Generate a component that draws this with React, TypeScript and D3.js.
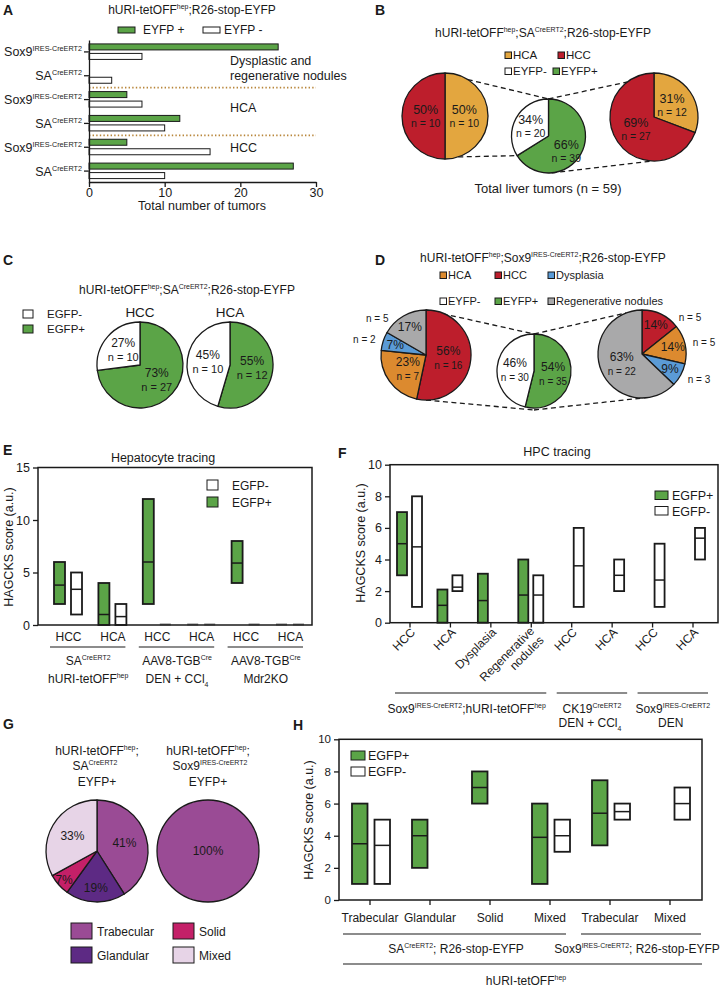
import React, { useEffect, useRef } from 'react';
import * as d3 from 'd3';

const FONT = '"Liberation Sans", Arial, Helvetica, sans-serif';
const INK = '#1a1a1a';
const GREEN = '#5ba447';
const RED = '#bd1e2c';
const ORANGE_B = '#e3a63f';
const ORANGE_D = '#dc8a2f';
const BLUE = '#5b9bd6';
const GRAY = '#a9a9aa';
const PATTERN_COLORS = ['#9a4b95', '#5d2a84', '#c42068', '#e7d4e7'];

type Seg = string | [string, 'sup' | 'sub'];
const HURI: Seg[] = ['hURI-tetOFF', ['hep', 'sup']];
const SOX9: Seg[] = ['Sox9', ['IRES-CreERT2', 'sup']];
const SA: Seg[] = ['SA', ['CreERT2', 'sup']];

// ---- A: tumour counts per line ----
const aLines = ['Sox9', 'SA', 'Sox9', 'SA', 'Sox9', 'SA'];
const aEyfpPos = [25, 0, 5, 12, 5, 27];
const aEyfpNeg = [7, 3, 7, 10, 16, 10];
const aTicks = [0, 10, 20, 30];
const aGroups = [['Dysplastic and', 'regenerative nodules'], ['HCA'], ['HCC']];

// ---- B: SA-CreERT2 tumours ----
const bTypes = ['HCA', 'HCC'];
const bNegCounts = [10, 10];
const bNegPct = ['50%', '50%'];
const bPosCounts = [12, 27];
const bPosPct = ['31%', '69%'];
const bAllCounts = [39, 20]; // EYFP+, EYFP-
const bAllPct = ['66%', '34%'];

// ---- C ----
const cTumors = ['HCC', 'HCA'];
const cCounts = [[27, 10], [12, 10]]; // EGFP+, EGFP-
const cPct = [['73%', '27%'], ['55%', '45%']];

// ---- D: Sox9-CreERT2 tumours ----
const dTypes = ['HCC', 'HCA', 'Dysplasia', 'Regenerative nodules'];
const dNegCounts = [16, 7, 2, 5];
const dNegPct = ['56%', '23%', '7%', '17%'];
const dPosCounts = [5, 5, 3, 22];
const dPosPct = ['14%', '14%', '9%', '63%'];
const dAllCounts = [35, 30]; // EYFP+, EYFP-
const dAllPct = ['54%', '46%'];

// ---- E: HAGCKS scores [min, median, max] ----
const eTumors = ['HCC', 'HCA', 'HCC', 'HCA', 'HCC', 'HCA'];
const ePos = [[2, 3.8, 6], [0, 1, 4], [2, 6, 12], [0, 0, 0], [4, 5.9, 8], [0, 0, 0]];
const eNeg = [[1, 3.4, 5], [0, 0.8, 2], [0, 0, 0], [0, 0, 0], [0, 0, 0], [0, 0, 0]];
const eTicks = [0, 5, 10, 15];
const eGroupTop: Seg[][] = [SA, ['AAV8-TGB', ['Cre', 'sup']], ['AAV8-TGB', ['Cre', 'sup']]];
const eGroupBottom: Seg[][] = [HURI, ['DEN + CCl', ['4', 'sub']], ['Mdr2KO']];

// ---- F ----
const fTumors = ['HCC', 'HCA', 'Dysplasia', 'Regenerative|nodules', 'HCC', 'HCA', 'HCC', 'HCA'];
const fPos = [[3, 5, 7], [0, 1.1, 2.1], [0, 1.4, 3.1], [0, 1.75, 4], null, null, null, null];
const fNeg = [[1, 4.8, 8], [2, 2.25, 3], null, [0, 1.75, 3], [1, 3.6, 6], [2, 3, 4], [1, 2.7, 5], [4, 5.35, 6]];
const fTicks = [0, 2, 4, 6, 8, 10];
const fGroups = [[0, 3], [4, 5], [6, 7]];
const fGroupTop: Seg[][] = [[...SOX9, ';', ...HURI], ['CK19', ['CreERT2', 'sup']], SOX9];
const fGroupBottom: Seg[][] = [[], ['DEN + CCl', ['4', 'sub']], ['DEN']];

// ---- G ----
const gPatterns = ['Trabecular', 'Glandular', 'Solid', 'Mixed'];
const gSA = [41, 19, 7, 33];
const gSox9 = [100, 0, 0, 0];

// ---- H ----
const hPatterns = ['Trabecular', 'Glandular', 'Solid', 'Mixed', 'Trabecular', 'Mixed'];
const hPos = [[1, 3.5, 6], [2, 4, 5], [6, 7, 8], [1, 3.9, 6], [3.4, 5.4, 7.45], null];
const hNeg = [[1, 3.4, 5], null, null, [3, 4, 5], [5, 5.5, 6], [5, 6, 7]];
const hTicks = [0, 2, 4, 6, 8, 10];
const hGroups = [[0, 3], [4, 5]];
const hGroupText: Seg[][] = [[...SA, '; R26-stop-EYFP'], [...SOX9, '; R26-stop-EYFP']];

// ---------- helpers ----------
function rich(g: any, x: number, y: number, segs: Seg[], size: number, anchor = 'start') {
  const t = g.append('text').attr('x', x).attr('y', y).attr('font-size', size)
    .attr('text-anchor', anchor).attr('fill', INK);
  let cur = 0;
  segs.forEach((s) => {
    const str = typeof s === 'string' ? s : s[0];
    const kind = typeof s === 'string' ? '' : s[1];
    const off = kind === 'sup' ? -size * 0.4 : kind === 'sub' ? size * 0.3 : 0;
    const sp = t.append('tspan').attr('dy', off - cur).text(str);
    if (kind) sp.attr('font-size', size * 0.58);
    cur = off;
  });
  return t;
}

function txt(g: any, x: number, y: number, s: string, size: number, anchor = 'start', weight = 'normal') {
  return g.append('text').attr('x', x).attr('y', y).attr('font-size', size)
    .attr('text-anchor', anchor).attr('font-weight', weight).attr('fill', INK).text(s);
}

function letter(g: any, x: number, y: number, s: string) {
  txt(g, x, y, s, 14, 'start', 'bold');
}

function swatch(g: any, x: number, y: number, w: number, h: number, fill: string) {
  g.append('rect').attr('x', x).attr('y', y).attr('width', w).attr('height', h)
    .attr('fill', fill).attr('stroke', INK).attr('stroke-width', 1);
}

function hline(g: any, x1: number, x2: number, y: number, w = 1.2) {
  g.append('line').attr('x1', x1).attr('x2', x2).attr('y1', y).attr('y2', y)
    .attr('stroke', INK).attr('stroke-width', w);
}

type Pie = { cx: number; cy: number; r: number };

function drawPie(g: any, P: Pie, values: number[], colors: string[]) {
  const arcs = d3.pie<number>().sort(null).value((d) => d)(values);
  const arc = d3.arc<d3.PieArcDatum<number>>().innerRadius(0).outerRadius(P.r);
  const pg = g.append('g').attr('transform', `translate(${P.cx},${P.cy})`);
  pg.selectAll('path').data(arcs.filter((a) => a.value > 0)).join('path')
    .attr('d', arc as any)
    .attr('fill', (d: any) => colors[d.index])
    .attr('stroke', INK).attr('stroke-width', 1.3).attr('stroke-linejoin', 'round');
  return arcs;
}

function spot(P: Pie, a: d3.PieArcDatum<number>, k: number) {
  const m = (a.startAngle + a.endAngle) / 2;
  return [P.cx + Math.sin(m) * P.r * k, P.cy - Math.cos(m) * P.r * k];
}

function onRim(P: Pie, deg: number, extra = 0) {
  const a = (deg * Math.PI) / 180;
  return [P.cx + Math.sin(a) * (P.r + extra), P.cy - Math.cos(a) * (P.r + extra)];
}

function dashed(g: any, p: number[], q: number[]) {
  g.append('line').attr('x1', p[0]).attr('y1', p[1]).attr('x2', q[0]).attr('y2', q[1])
    .attr('stroke', INK).attr('stroke-width', 1.3).attr('stroke-dasharray', '5,3.5');
}

function twoLine(g: any, p: number[], pct: string, n: number, ps: number, ns: number, up: number, down: number) {
  txt(g, p[0], p[1] - up, pct, ps, 'middle');
  txt(g, p[0], p[1] + down, `n = ${n}`, ns, 'middle');
}

function frame(g: any, x0: number, y0: number, x1: number, y1: number) {
  g.append('rect').attr('x', x0).attr('y', y0).attr('width', x1 - x0).attr('height', y1 - y0)
    .attr('fill', 'none').attr('stroke', INK).attr('stroke-width', 1.5);
}

function leftAxis(g: any, y: any, x0: number, ticks: number[], size: number) {
  const ax = g.append('g').attr('transform', `translate(${x0},0)`)
    .call(d3.axisLeft(y).tickValues(ticks).tickSize(5).tickSizeOuter(0).tickPadding(3));
  ax.select('.domain').remove();
  ax.attr('font-size', size).attr('font-family', FONT).attr('color', INK);
  ax.selectAll('line').attr('stroke-width', 1.3);
  return ax;
}

function boxes(g: any, x: any, y: any, data: (number[] | null)[], o0: number, o1: number, fill: string) {
  data.forEach((d, i) => {
    if (!d) return;
    const c = x(i);
    const [lo, med, hi] = d;
    if (hi === lo) {
      g.append('line').attr('x1', c + o0).attr('x2', c + o1).attr('y1', y(lo) - 0.5).attr('y2', y(lo) - 0.5)
        .attr('stroke', '#7c7c7c').attr('stroke-width', 2);
      return;
    }
    g.append('rect').attr('x', c + o0).attr('y', y(hi)).attr('width', o1 - o0).attr('height', y(lo) - y(hi))
      .attr('fill', fill).attr('stroke', INK).attr('stroke-width', 1.8);
    hline(g, c + o0, c + o1, y(med), 1.5);
  });
}

function yTitle(g: any, x: number, y: number) {
  g.append('text').attr('transform', `translate(${x},${y}) rotate(-90)`).attr('text-anchor', 'middle')
    .attr('font-size', 12.5).attr('fill', INK).text('HAGCKS score (a.u.)');
}

// ---------- panels ----------
function swatchBar(g: any, x: number, y: number, w: number, fill: string) {
  g.append('rect').attr('x', x).attr('y', y).attr('width', w).attr('height', 6)
    .attr('fill', fill).attr('stroke', INK).attr('stroke-width', 1);
}

function drawA(svg: any) {
  const g = svg.append('g');
  letter(g, 3, 15, 'A');
  rich(g, 192, 14, [...HURI, ';R26-stop-EYFP'], 12, 'middle');
  swatch(g, 118, 27, 17, 6, GREEN);
  txt(g, 143, 33.5, 'EYFP +', 12);
  swatch(g, 203, 27, 17, 6, '#fff');
  txt(g, 224, 33.5, 'EYFP -', 12);

  const x = d3.scaleLinear().domain([0, 30]).range([89, 316]);
  const y = d3.scaleBand<number>().domain(d3.range(aLines.length)).range([40, 183]);
  const mid = (i: number) => (y(i) as number) + y.bandwidth() / 2;

  aEyfpPos.forEach((v, i) => {
    if (v > 0) swatchBar(g, x(0), mid(i) - 8, x(v) - x(0), GREEN);
  });
  aEyfpNeg.forEach((v, i) => {
    if (v > 0) swatchBar(g, x(0), mid(i) + 1.5, x(v) - x(0), '#fff');
  });

  [2, 4].forEach((i) => {
    g.append('line').attr('x1', x(0)).attr('x2', x(30)).attr('y1', y(i)).attr('y2', y(i))
      .attr('stroke', '#b8863b').attr('stroke-width', 1.6).attr('stroke-dasharray', '1.4,2.2');
  });

  const xa = g.append('g').attr('transform', 'translate(0,182)')
    .call(d3.axisBottom(x).tickValues(aTicks).tickSize(5).tickSizeOuter(0).tickPadding(1));
  xa.attr('font-size', 12.5).attr('font-family', FONT).attr('color', INK);
  xa.selectAll('line,path').attr('stroke-width', 1.3);
  const ya = g.append('g').attr('transform', 'translate(89,0)')
    .call(d3.axisLeft(y).tickSize(5).tickSizeOuter(0).tickFormat(() => ''));
  ya.attr('color', INK);
  ya.selectAll('line,path').attr('stroke-width', 1.3);

  aLines.forEach((l, i) => rich(g, 82, mid(i) + 4.5, l === 'Sox9' ? SOX9 : SA, 12.5, 'end'));
  const groupDy = [13, 12.5, 5];
  aGroups.forEach((lines, k) => {
    lines.forEach((s, j) => txt(g, 230, mid(k * 2) + groupDy[k] + j * 15, s, 12.5));
  });
  txt(g, 202, 210, 'Total number of tumors', 12.5, 'middle');
}

function drawB(svg: any) {
  const g = svg.append('g');
  letter(g, 375, 15, 'B');
  rich(g, 543, 37, [...HURI, ';', ...SA, ';R26-stop-EYFP'], 12, 'middle');
  const typeColors = [ORANGE_B, RED];
  swatch(g, 505, 52, 6.5, 6.5, typeColors[0]);
  txt(g, 513, 58.5, bTypes[0], 11.5);
  swatch(g, 558, 52, 6.5, 6.5, typeColors[1]);
  txt(g, 566, 58.5, bTypes[1], 11.5);
  swatch(g, 505, 68, 6.5, 6.5, '#fff');
  txt(g, 513, 74.5, 'EYFP-', 11.5);
  swatch(g, 553, 68, 6.5, 6.5, GREEN);
  txt(g, 561, 74.5, 'EYFP+', 11.5);

  const L = { cx: 445, cy: 116, r: 43 };
  const M = { cx: 548.5, cy: 136, r: 37 };
  const R = { cx: 654, cy: 117, r: 44 };
  const split = (360 * bAllCounts[0]) / d3.sum(bAllCounts);
  dashed(g, onRim(L, 32), onRim(M, 0));
  dashed(g, onRim(L, 162), onRim(M, split));
  dashed(g, onRim(M, 0), onRim(R, 323));
  dashed(g, onRim(M, 175), onRim(R, 182));

  const la = drawPie(g, L, bNegCounts, typeColors);
  la.forEach((a, i) => twoLine(g, spot(L, a, 0.45), bNegPct[i], bNegCounts[i], 12.5, 10.5, 2, 11));
  const ma = drawPie(g, M, bAllCounts, [GREEN, '#fff']);
  ma.forEach((a, i) => {
    const p = spot(M, a, 0.55);
    twoLine(g, [p[0], p[1] + (i === 0 ? 5 : 0)], bAllPct[i], bAllCounts[i], 12.5, 10.5, 2, 11);
  });
  const ra = drawPie(g, R, bPosCounts, typeColors);
  ra.forEach((a, i) => twoLine(g, spot(R, a, 0.5), bPosPct[i], bPosCounts[i], 12.5, 10.5, 2, 11));

  txt(g, 548, 193, 'Total liver tumors (n = 59)', 13, 'middle');
}

function drawC(svg: any) {
  const g = svg.append('g');
  letter(g, 3, 265, 'C');
  rich(g, 187, 294, [...HURI, ';', ...SA, ';R26-stop-EYFP'], 12, 'middle');
  swatch(g, 23, 310, 10, 8, '#fff');
  txt(g, 47, 318, 'EGFP-', 11.5);
  swatch(g, 23, 325, 10, 8, GREEN);
  txt(g, 47, 333, 'EGFP+', 11.5);
  const centers = [140, 230];
  cTumors.forEach((t, k) => {
    const P = { cx: centers[k], cy: 365, r: 43 };
    txt(g, P.cx, 317, t, 13.5, 'middle');
    const arcs = drawPie(g, P, cCounts[k], [GREEN, '#fff']);
    arcs.forEach((a, i) => twoLine(g, spot(P, a, 0.52), cPct[k][i], cCounts[k][i], 12, 11, 3, 11));
  });
}

function drawD(svg: any) {
  const g = svg.append('g');
  letter(g, 375, 265, 'D');
  rich(g, 543, 262, [...HURI, ';', ...SOX9, ';R26-stop-EYFP'], 12, 'middle');
  const typeColors = [RED, ORANGE_D, BLUE, GRAY];
  const row1 = [[440, ORANGE_D, dTypes[1]], [495, RED, dTypes[0]], [548, BLUE, dTypes[2]]];
  row1.forEach(([x, c, s]) => {
    swatch(g, x as number, 272, 6.5, 6.5, c as string);
    txt(g, (x as number) + 8, 278.5, s as string, 11);
  });
  const row2 = [[440, '#fff', 'EYFP-'], [495, GREEN, 'EYFP+'], [548, GRAY, dTypes[3]]];
  row2.forEach(([x, c, s]) => {
    swatch(g, x as number, 298, 6.5, 6.5, c as string);
    txt(g, (x as number) + 8, 304.5, s as string, 11);
  });

  const L = { cx: 426, cy: 355, r: 45 };
  const M = { cx: 534, cy: 371, r: 37 };
  const R = { cx: 642, cy: 354, r: 44 };
  dashed(g, onRim(L, 0), onRim(M, 0));
  dashed(g, onRim(L, 180), onRim(M, 180, 2));
  dashed(g, onRim(M, 0), onRim(R, 339));
  dashed(g, onRim(M, 180, 2), onRim(R, 168));

  const label = (P: Pie, arcs: d3.PieArcDatum<number>[], pcts: string[], counts: number[]) => {
    const total = d3.sum(counts);
    arcs.forEach((a, i) => {
      const frac = counts[i] / total;
      const p = spot(P, a, frac >= 0.2 ? 0.5 : 0.72);
      if (counts[i] >= 7) {
        twoLine(g, p, pcts[i], counts[i], 12, 10, 2, 12);
      } else {
        txt(g, p[0], p[1] + 4, pcts[i], 12, 'middle');
        let m = ((a.startAngle + a.endAngle) / 2) * 180 / Math.PI;
        if (m < 45) m = 45;
        if (m > 315) m = 315;
        const q = onRim(P, m, 8);
        txt(g, q[0], q[1] + 4, `n = ${counts[i]}`, 10, q[0] < P.cx ? 'end' : 'start');
      }
    });
  };
  label(L, drawPie(g, L, dNegCounts, typeColors), dNegPct, dNegCounts);
  const ma = drawPie(g, M, dAllCounts, [GREEN, '#fff']);
  ma.forEach((a, i) => twoLine(g, spot(M, a, 0.52), dAllPct[i], dAllCounts[i], 12, 10, 2, 12));
  label(R, drawPie(g, R, dPosCounts, typeColors), dPosPct, dPosCounts);
}

function drawE(svg: any) {
  const g = svg.append('g');
  letter(g, 3, 455, 'E');
  txt(g, 163, 462, 'Hepatocyte tracing', 12.5, 'middle');
  const y = d3.scaleLinear().domain([0, 15]).range([625, 467.5]);
  const x = d3.scalePoint<number>().domain(d3.range(eTumors.length)).range([68, 290]);
  boxes(g, x, y, ePos, -14, -3, GREEN);
  boxes(g, x, y, eNeg, 3, 14, '#fff');
  frame(g, 38, 467.5, 312, 625);
  leftAxis(g, y, 38, eTicks, 12.5);
  yTitle(g, 13, 547);
  swatch(g, 207, 480, 11, 10, '#fff');
  txt(g, 232, 490, 'EGFP-', 12);
  swatch(g, 207, 497, 11, 10, GREEN);
  txt(g, 232, 506.5, 'EGFP+', 12);
  eTumors.forEach((t, i) => txt(g, (x(i) as number) + 0.5, 641, t, 12, 'middle'));
  eGroupTop.forEach((segs, k) => {
    const a = x(k * 2) as number;
    const b = x(k * 2 + 1) as number;
    hline(g, a - 18, b + 13, 647, 1.2);
    rich(g, (a + b) / 2 - 2, 665, segs, 12, 'middle');
    rich(g, (a + b) / 2 - 2, 683, eGroupBottom[k], 12, 'middle');
  });
}

function drawF(svg: any) {
  const g = svg.append('g');
  letter(g, 338, 458, 'F');
  txt(g, 557, 456, 'HPC tracing', 12.5, 'middle');
  const y = d3.scaleLinear().domain([0, 10]).range([622.7, 464.7]);
  const x = d3.scalePoint<number>().domain(d3.range(fTumors.length)).range([410, 693]);
  boxes(g, x, y, fPos, -13, -3, GREEN);
  boxes(g, x, y, fNeg, 2, 12, '#fff');
  frame(g, 390, 464.7, 718, 622.7);
  leftAxis(g, y, 390, fTicks, 12.5);
  yTitle(g, 365, 543);
  swatch(g, 655, 491, 13, 8.5, GREEN);
  txt(g, 672, 500, 'EGFP+', 12.5);
  swatch(g, 655, 506.5, 13, 8.5, '#fff');
  txt(g, 672, 515.5, 'EGFP-', 12.5);
  fTumors.forEach((t, i) => {
    const c = x(i) as number;
    g.append('line').attr('x1', c).attr('x2', c).attr('y1', 622.7).attr('y2', 627.5)
      .attr('stroke', INK).attr('stroke-width', 1.3);
    const lines = t.split('|');
    if (lines.length === 1) {
      g.append('text').attr('transform', `translate(${c + 6},${633}) rotate(-45)`)
        .attr('text-anchor', 'end').attr('font-size', 12).attr('fill', INK).text(lines[0]);
    } else {
      const tg = g.append('text').attr('transform', `translate(${c + 8},${636}) rotate(-45)`)
        .attr('text-anchor', 'end').attr('font-size', 12).attr('fill', INK);
      lines.forEach((l, j) => tg.append('tspan').attr('x', 0).attr('dy', j === 0 ? '-0.5em' : '1.1em').text(l));
    }
  });
  fGroups.forEach(([a, b], k) => {
    const xa = x(a) as number;
    const xb = x(b) as number;
    hline(g, xa - 15, xb + 15, 693, 1.2);
    rich(g, (xa + xb) / 2 + (k === 0 ? -4 : 0), 713, fGroupTop[k], 12, 'middle');
    if (fGroupBottom[k].length) rich(g, (xa + xb) / 2 - 2, 727, fGroupBottom[k], 12, 'middle');
  });
}

function drawG(svg: any) {
  const g = svg.append('g');
  letter(g, 3, 729, 'G');
  const L = { cx: 97, cy: 851, r: 51 };
  const R = { cx: 208, cy: 851, r: 51 };
  rich(g, L.cx, 755, [...HURI, ';'], 12, 'middle');
  rich(g, L.cx - 2, 770, SA, 12, 'middle');
  txt(g, L.cx, 786, 'EYFP+', 12, 'middle');
  rich(g, R.cx, 755, [...HURI, ';'], 12, 'middle');
  rich(g, R.cx + 2, 770, SOX9, 12, 'middle');
  txt(g, R.cx, 786, 'EYFP+', 12, 'middle');

  [[L, gSA], [R, gSox9]].forEach(([P, vals]: any) => {
    const arcs = drawPie(g, P, vals, PATTERN_COLORS);
    const total = d3.sum(vals as number[]);
    arcs.forEach((a, i) => {
      const v = (vals as number[])[i];
      if (v <= 0) return;
      const frac = v / total;
      const p = frac >= 1 ? [P.cx, P.cy] : spot(P, a, frac >= 0.3 ? 0.56 : frac >= 0.1 ? 0.73 : 0.86);
      txt(g, p[0], p[1] + 4, `${v}%`, 12, 'middle');
    });
  });

  const pos = [[71, 923], [71, 947], [173, 923], [173, 947]];
  gPatterns.forEach((s, i) => {
    swatch(g, pos[i][0], pos[i][1], 21, 16, PATTERN_COLORS[i]);
    txt(g, pos[i][0] + 26, pos[i][1] + 13, s, 12);
  });
}

function drawH(svg: any) {
  const g = svg.append('g');
  letter(g, 293, 730, 'H');
  const y = d3.scaleLinear().domain([0, 10]).range([900, 739.3]);
  const x = d3.scalePoint<number>().domain(d3.range(hPatterns.length)).range([370, 670]);
  boxes(g, x, y, hPos, -18, -2.5, GREEN);
  boxes(g, x, y, hNeg, 4.5, 20, '#fff');
  frame(g, 339, 739.3, 702, 900);
  leftAxis(g, y, 339, hTicks, 11.5);
  yTitle(g, 313, 820);
  swatch(g, 351, 751, 14, 9, GREEN);
  txt(g, 368, 760, 'EGFP+', 12.5);
  swatch(g, 351, 767, 14, 9, '#fff');
  txt(g, 368, 775.5, 'EGFP-', 12.5);
  hPatterns.forEach((t, i) => {
    const c = x(i) as number;
    g.append('line').attr('x1', c).attr('x2', c).attr('y1', 900).attr('y2', 905)
      .attr('stroke', INK).attr('stroke-width', 1.3);
    txt(g, c, 922, t, 12, 'middle');
  });
  const split = ((x(3) as number) + (x(4) as number)) / 2;
  const spans = [[343, split - 14], [split + 1, 701]];
  hGroups.forEach((_, k) => {
    const [a, b] = spans[k];
    hline(g, a, b, 934, 1.2);
    rich(g, k === 0 ? 456 : 637, 953, hGroupText[k], 12, 'middle');
  });
  hline(g, 343, 702, 964, 1.2);
  rich(g, 526, 985, HURI, 12, 'middle');
}

export default function App() {
  const ref = useRef<SVGSVGElement>(null);
  useEffect(() => {
    const svg = d3.select(ref.current);
    svg.selectAll('*').remove();
    svg.append('rect').attr('width', 726).attr('height', 988).attr('fill', '#fff');
    drawA(svg);
    drawB(svg);
    drawC(svg);
    drawD(svg);
    drawE(svg);
    drawF(svg);
    drawG(svg);
    drawH(svg);
  }, []);
  return (
    <div style={{ position: 'absolute', left: 0, top: 0 }}>
      <svg ref={ref} width={726} height={988} fontFamily={FONT} style={{ display: 'block' }} />
    </div>
  );
}
